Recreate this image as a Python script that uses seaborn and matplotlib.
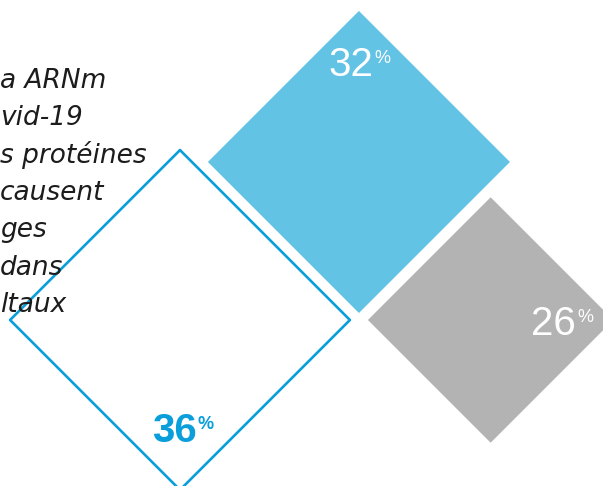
import matplotlib
matplotlib.use("Agg")
import matplotlib.pyplot as plt
import seaborn as sns
import numpy as np
import pandas as pd

# data
labels = ["36", "32", "26"]
values = [36, 32, 26]
styles = ["outline", "fill", "fill"]
colours = ["#0a9fda", "#63c3e5", "#b3b3b3"]
text_colours = ["#0a9fda", "#ffffff", "#ffffff"]

# left text block, only its right part is visible in the crop
side_text = ["a ARNm", "vid-19", "s protéines", "causent", "ges", "dans", "ltaux"]

sns.set_theme(style="white")
plt.rcParams['font.family'] = ['Liberation Sans', 'DejaVu Sans']

k = 4.72      # pixels of half diagonal per percent
gap = 18      # white space between the shapes
cx0, cy0 = 180, 320

half = [v * k for v in values]
# grey sits on the same row, right of the outlined one
gx = cx0 + half[0] + gap + half[2]
gy = cy0
# blue sits above, between both
d = 16
s0, s1, s2 = half
a = (cx0 - (cy0 - s0)) + d + s1          # bx - by
b = (gx - s2 + gy) - d - s1              # bx + by
bx, by = (a + b) / 2, (b - a) / 2
centres = [(cx0, cy0), (bx, by), (gx, gy)]

fig = plt.figure(figsize=(6.03, 4.86), dpi=100)
ax = fig.add_axes([0, 0, 1, 1])
ax.set_xlim(0, 603)
ax.set_ylim(486, 0)
ax.axis("off")

rows = []
for i, (c, h) in enumerate(zip(centres, half)):
    xs = [c[0], c[0] + h, c[0], c[0] - h, c[0]]
    ys = [c[1] - h, c[1], c[1] + h, c[1], c[1] - h]
    for j, (x, y) in enumerate(zip(xs, ys)):
        rows.append({"shape": i, "order": j, "x": x, "y": y})
df = pd.DataFrame(rows)

for i in range(len(values)):
    sub = df[df["shape"] == i]
    if styles[i] == "fill":
        ax.fill(sub["x"], sub["y"], color=colours[i], lw=0, zorder=1)
    else:
        sns.lineplot(data=sub, x="x", y="y", sort=False, estimator=None,
                     color=colours[i], lw=1.9, ax=ax, zorder=2)

# label offsets relative to each centre
offs = [(-6, 111), (-8, -97), (63, 4)]
weights = ["bold", "normal", "normal"]
for i, lab in enumerate(labels):
    x = centres[i][0] + offs[i][0]
    y = centres[i][1] + offs[i][1]
    t = ax.text(x, y, lab, ha="center", va="center", fontsize=29,
                color=text_colours[i], fontweight=weights[i], zorder=3)
    ax.annotate("%", xy=(1, 1), xycoords=t, xytext=(1, -3),
                textcoords="offset points", ha="left", va="top",
                fontsize=13, color=text_colours[i], fontweight=weights[i],
                zorder=3)

for n, line in enumerate(side_text):
    ax.text(0, 88 + n * 37.3, line, ha="left", va="baseline",
            fontsize=19, style="italic", color="#1c1c1c",
            family=['DejaVu Sans'], zorder=4)

fig.savefig("out.png", dpi=100)
